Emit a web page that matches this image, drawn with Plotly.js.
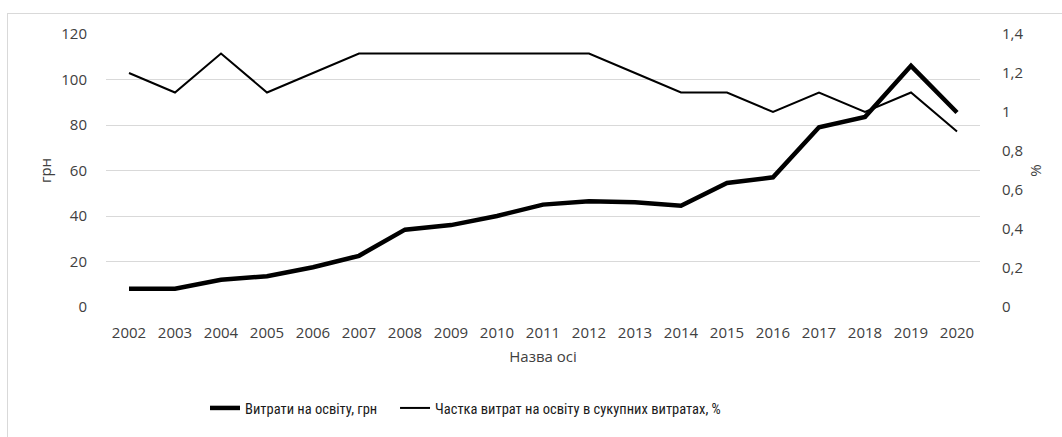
<!DOCTYPE html>
<html>
<head>
<meta charset="utf-8">
<script src="https://cdn.plot.ly/plotly-3.0.1.min.js"></script>
<style>
  html, body { margin: 0; padding: 0; background: #fff; }
  #wrap { position: relative; width: 1062px; height: 437px; overflow: hidden; }
  #chart { position: absolute; left: 0; top: 0; width: 1062px; height: 437px; }
  #frame { position: absolute; left: 7px; top: 13px; width: 1100px; height: 500px;
           border-left: 1px solid #d9d9d9; border-top: 1px solid #d9d9d9; pointer-events: none; }
</style>
</head>
<body>
<div id="wrap">
  <div id="chart"></div>
  <div id="frame"></div>
</div>
<script>
const years = ['2002','2003','2004','2005','2006','2007','2008','2009','2010','2011',
               '2012','2013','2014','2015','2016','2017','2018','2019','2020'];
const spending = [8, 8, 12, 13.5, 17.5, 22.5, 34, 36, 40, 45,
                  46.5, 46, 44.5, 54.5, 57, 79, 83.5, 106, 85.5];
const share = [1.2, 1.1, 1.3, 1.1, 1.2, 1.3, 1.3, 1.3, 1.3, 1.3,
               1.3, 1.2, 1.1, 1.1, 1.0, 1.1, 1.0, 1.1, 0.9];
const seriesNames = ['Витрати на освіту, грн', 'Частка витрат на освіту в сукупних витратах, %'];

const txtColor = '#404040';
const tickFont = { family: 'Open Sans, sans-serif', size: 15, color: txtColor };
const titleFont = { family: 'Open Sans, sans-serif', size: 15, color: txtColor };
const legendFont = { family: 'Liberation Sans Narrow, Roboto Condensed, Arial Narrow, sans-serif', size: 14.5, color: '#1a1a1a' };

const traces = [
  { x: years, y: spending, name: seriesNames[0], type: 'scatter', mode: 'lines',
    line: { color: '#000000', width: 4.5 }, yaxis: 'y', legend: 'legend' },
  { x: years, y: share, name: seriesNames[1], type: 'scatter', mode: 'lines',
    line: { color: '#000000', width: 2 }, yaxis: 'y2', legend: 'legend2' }
];

const layout = {
  width: 1062, height: 437,
  margin: { l: 106, r: 82, t: 34, b: 130, autoexpand: false },
  paper_bgcolor: 'rgba(0,0,0,0)', plot_bgcolor: '#ffffff',
  separators: ', ',
  showlegend: true,
  legend: { orientation: 'h', x: 0.1133, xanchor: 'left', y: -0.37, yanchor: 'middle',
            font: legendFont, itemwidth: 30 },
  legend2: { orientation: 'h', x: 0.3307, xanchor: 'left', y: -0.37, yanchor: 'middle',
             font: legendFont, itemwidth: 30 },
  xaxis: { type: 'category', range: [-0.5, years.length - 0.5], autorange: false,
           tickfont: tickFont, showgrid: false, zeroline: false,
           showline: false, ticks: 'outside', ticklen: 12, tickcolor: 'rgba(0,0,0,0)',
           title: { text: 'Назва осі', font: titleFont, standoff: 10 } },
  yaxis: { range: [0, 120], dtick: 20, tick0: 0, tickfont: tickFont,
           showgrid: true, gridcolor: '#d9d9d9', gridwidth: 1, zeroline: false, showline: false,
           ticks: 'outside', ticklen: 15, tickcolor: 'rgba(0,0,0,0)',
           title: { text: 'грн', font: titleFont, standoff: 6 } },
  yaxis2: { range: [0, 1.4], dtick: 0.2, tick0: 0, overlaying: 'y', side: 'right',
            tickfont: tickFont, showgrid: false, zeroline: false, showline: false,
            ticks: 'outside', ticklen: 18, tickcolor: 'rgba(0,0,0,0)',
            title: { text: '%', font: titleFont, standoff: 8 } }
};

Plotly.newPlot('chart', traces, layout, { displayModeBar: false, staticPlot: true });
</script>
</body>
</html>
